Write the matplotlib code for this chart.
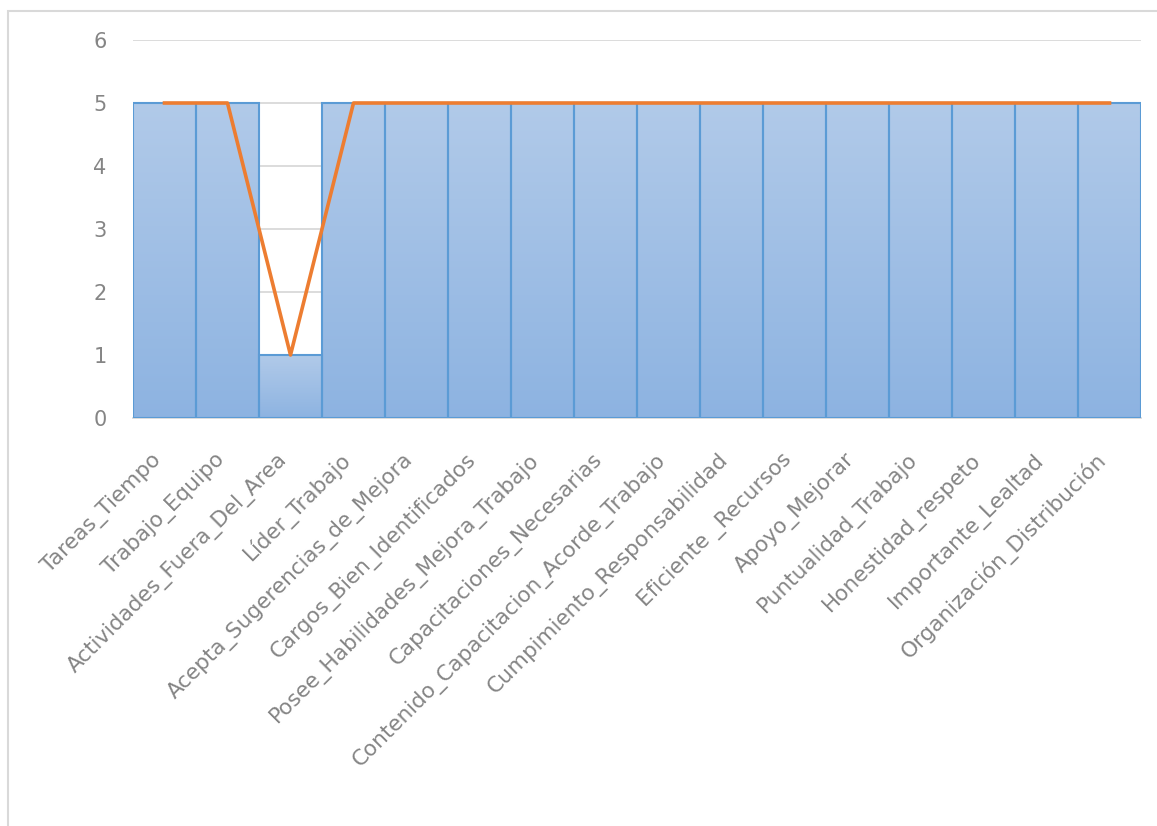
import numpy as np
import matplotlib.pyplot as plt
import matplotlib.transforms as mtransforms
from matplotlib.colors import LinearSegmentedColormap
from matplotlib.patches import Rectangle

categorias = ['Tareas_Tiempo', 'Trabajo_Equipo', 'Actividades_Fuera_Del_Area',
              'Líder_Trabajo', 'Acepta_Sugerencias_de_Mejora',
              'Cargos_Bien_Identificados', 'Posee_Habilidades_Mejora_Trabajo',
              'Capacitaciones_Necesarias', 'Contenido_Capacitacion_Acorde_Trabajo',
              'Cumpimiento_Responsabilidad', 'Eficiente _Recursos', 'Apoyo_Mejorar',
              'Puntualidad_Trabajo', 'Honestidad_respeto', 'Importante_Lealtad',
              'Organización_Distribución']
barras = [5, 5, 1, 5, 5, 5, 5, 5, 5, 5, 5, 5, 5, 5, 5, 5]
linea = [5, 5, 1, 5, 5, 5, 5, 5, 5, 5, 5, 5, 5, 5, 5, 5]

plt.rcParams['font.family'] = ['DejaVu Sans']

fig = plt.figure(figsize=(11.57, 8.26), dpi=100)
ax = fig.add_axes([133 / 1157, 1 - 418 / 826, 1008 / 1157, 378 / 826])

# marco exterior del grafico
fig.patches.append(Rectangle((8 / 1157, -0.1), 1.2, 1.1 - 11 / 826, transform=fig.transFigure,
                             fill=False, edgecolor='#D9D9D9', linewidth=1.5))

x = np.arange(len(categorias))
bars = ax.bar(x, barras, width=1.0, color='none', edgecolor='#5B9BD5', linewidth=1.5, zorder=3)

cmap = LinearSegmentedColormap.from_list('azul', ['#8DB3E1', '#B1CAE9'])
grad = np.linspace(0, 1, 256).reshape(-1, 1)
for b in bars:
    im = ax.imshow(grad, cmap=cmap, origin='lower', aspect='auto', zorder=2,
                   extent=[b.get_x(), b.get_x() + b.get_width(), 0, b.get_height()])
    im.set_clip_path(b)

ax.plot(x, linea, color='#ED7D31', linewidth=2.6, zorder=4)

ax.set_xlim(-0.5, len(categorias) - 0.5)
ax.set_ylim(0, 6)
ax.set_yticks(range(0, 7))
ax.yaxis.grid(True, color='#D9D9D9', linewidth=1.3, zorder=0)
ax.set_axisbelow(True)
for s in ['top', 'right', 'left']:
    ax.spines[s].set_visible(False)
ax.spines['bottom'].set_color('#D9D9D9')
ax.spines['bottom'].set_linewidth(1.3)
ax.tick_params(length=0, colors='#858585', labelsize=15)
ax.tick_params(axis='y', pad=19)
ax.set_xticks(x)
ax.set_xticklabels(categorias, rotation=45, ha='right', va='center',
                   rotation_mode='anchor', fontsize=15.5)
ax.tick_params(axis='x', pad=28)
desplaz = mtransforms.ScaledTranslation(-6 / 100, 0, fig.dpi_scale_trans)
for lab in ax.get_xticklabels():
    lab.set_transform(lab.get_transform() + desplaz)

fig.savefig('out.png', dpi=100)
